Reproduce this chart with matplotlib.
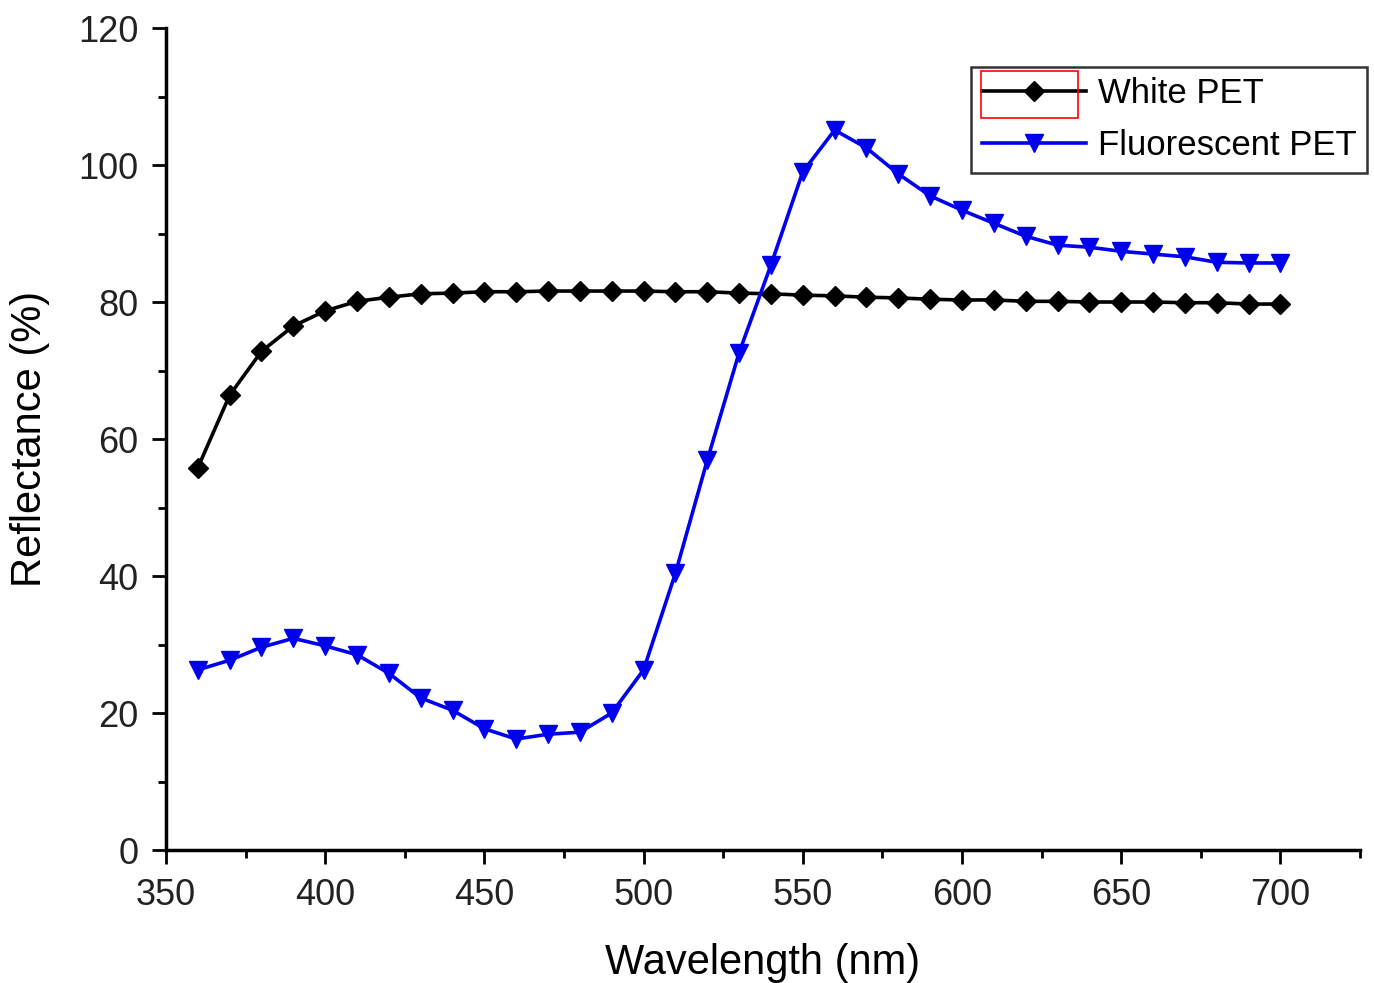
import matplotlib.pyplot as plt
from matplotlib.patches import Rectangle
import numpy

plt.rcParams['font.family'] = ['Liberation Sans', 'DejaVu Sans']

# Wavelength (nm)
wavelength = list(range(360, 701, 10))

# Reflectance (%)
white_pet = [55.8, 66.4, 72.8, 76.5, 78.7, 80.1, 80.7, 81.2, 81.3, 81.5,
             81.5, 81.6, 81.6, 81.6, 81.6, 81.5, 81.5, 81.3, 81.2, 81.0,
             80.9, 80.7, 80.6, 80.4, 80.3, 80.3, 80.1, 80.1, 80.0, 80.0,
             80.0, 79.9, 79.9, 79.7, 79.7]
fluor_pet = [26.3, 27.7, 29.6, 30.9, 29.8, 28.5, 25.8, 22.2, 20.4, 17.7,
             16.2, 16.9, 17.2, 20.0, 26.3, 40.4, 56.9, 72.6, 85.4, 99.0,
             105.1, 102.5, 98.7, 95.5, 93.4, 91.5, 89.6, 88.3, 88.0, 87.4,
             87.0, 86.6, 85.8, 85.7, 85.7]

fig = plt.figure(figsize=(13.74, 9.83), dpi=100)
ax = fig.add_axes([0.1208, 0.1353, 0.869, 0.8362])

ax.plot(wavelength, white_pet, color='black', lw=2.6, marker='D', ms=10,
        label='White PET')
ax.plot(wavelength, fluor_pet, color='#0000ee', lw=2.6, marker='v', ms=13,
        label='Fluorescent PET')

ax.set_xlim(350, 725)
ax.set_ylim(0, 120)
ax.set_xticks(numpy.arange(350, 701, 50))
ax.set_xticks(numpy.arange(375, 726, 50), minor=True)
ax.set_yticks(numpy.arange(0, 121, 20))
ax.set_yticks(numpy.arange(10, 121, 20), minor=True)

for s in ['top', 'right']:
    ax.spines[s].set_visible(False)
for s in ['left', 'bottom']:
    ax.spines[s].set_linewidth(2.5)

ax.tick_params(which='major', direction='out', length=10, width=2,
               labelsize=26, pad=10, colors='black', labelcolor='#222222')
ax.tick_params(which='minor', direction='out', length=6, width=2)

ax.set_xlabel('Wavelength (nm)', fontsize=30, labelpad=22)
ax.set_ylabel('Reflectance (%)', fontsize=30, labelpad=20)

leg = ax.legend(loc='upper right', bbox_to_anchor=(1.006, 0.953), fontsize=25,
                frameon=True, fancybox=False, edgecolor='black',
                handlelength=3.0, borderpad=0.3, labelspacing=0.55,
                handletextpad=0.35, borderaxespad=0)
leg.get_frame().set_linewidth(1.8)

# red frame that sits round the first legend handle in the picture
fig.patches.append(Rectangle((981 / 1374, 1 - 118 / 983), 97 / 1374, 47 / 983,
                             transform=fig.transFigure, fill=False,
                             edgecolor='red', lw=1.2))

fig.savefig('out.png', dpi=100)
